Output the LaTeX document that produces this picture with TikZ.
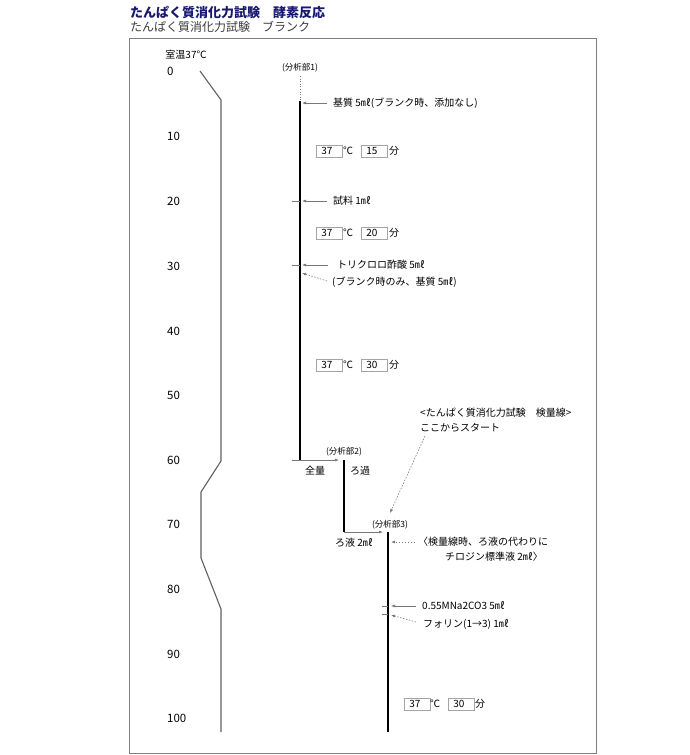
\documentclass[tikz,border=0pt]{standalone}
\usepackage{fontspec}
\setmainfont{Noto Sans CJK JP}
\usetikzlibrary{arrows.meta}
\definecolor{navy}{RGB}{25,25,112}
\definecolor{subgray}{RGB}{60,60,60}
\definecolor{framegray}{RGB}{128,128,128}
\definecolor{arrgray}{RGB}{120,120,120}
\definecolor{boxgray}{RGB}{165,165,165}
\definecolor{curvegray}{RGB}{95,95,95}
\begin{document}
\begin{tikzpicture}[x=1pt,y=-1pt,
  txt/.style={anchor=west,inner sep=0pt,font=\fontsize{10}{12}\selectfont},
  small/.style={anchor=center,inner sep=0pt,font=\fontsize{8.5}{9}\selectfont},
  num/.style={anchor=west,inner sep=0pt,font=\fontsize{11.5}{13}\selectfont},
  valbox/.style={draw=boxgray,fill=white,line width=0.8pt,anchor=west,minimum height=12pt,
     text width=21pt,inner xsep=2.5pt,inner ysep=0pt,align=left,font=\fontsize{10}{12}\selectfont},
  mainline/.style={draw=black,line width=2pt},
  tick/.style={draw=arrgray,line width=0.6pt},
  arr/.style={draw=arrgray,line width=0.6pt,-{Latex[length=4pt,width=3pt]}},
  darr/.style={arr,dash pattern=on 1.5pt off 1.5pt},
]
\useasboundingbox (0,0) rectangle (690,755);

% titles
\node[anchor=west,inner sep=0pt,font=\bfseries\fontsize{13}{15}\selectfont,text=navy] (title) at (130,12) {たんぱく質消化力試験　酵素反応};
\node[anchor=west,inner sep=0pt,font=\fontsize{12}{14}\selectfont,text=subgray] (subtitle) at (130,27) {たんぱく質消化力試験　ブランク};

% frame
\draw[framegray,line width=0.8pt] (129.5,38.5) rectangle (596.5,753.5);

% time axis
\node[txt,anchor=center] (room) at (186,55) {室温37℃};
\foreach \t/\yy in {0/71,10/136,20/201,30/266,40/331,50/395,60/460,70/524,80/589,90/654,100/718}{
  \node[num] (n\t) at (167,\yy) {\t};
}
\draw[curvegray,line width=1.1pt,line join=round] (200,71) -- (221,100) -- (221,461) -- (201,492) -- (201,558) -- (221,609) -- (221,732);

% part 1
\node[small] (p1) at (300,68) {(分析部1)};
\coordinate (d1) at (300,76);
\coordinate (l1top) at (300,101);
\coordinate (l1bot) at (300,460);
\draw[arrgray,line width=0.6pt,dotted] (d1) -- (l1top);
\draw[mainline] (l1top) -- (l1bot);

\node[txt] (s1) at (333,103) {基質 5㎖(ブランク時、添加なし)};
\coordinate (a1s) at (327,103); \coordinate (a1e) at (302,103);
\draw[arr] (a1s) -- (a1e);

\node[valbox] (b1a) at (316,151) {\hspace*{2.5pt}37};
\node[txt] (c1) at (343,151) {℃};
\node[valbox] (b1b) at (361,151) {\hspace*{2.5pt}15};
\node[txt] (m1) at (389,151) {分};

\node[txt] (s2) at (333,201) {試料 1㎖};
\coordinate (t2s) at (292,201); \coordinate (t2e) at (300,201);
\coordinate (a2s) at (327,201); \coordinate (a2e) at (302,201);
\draw[tick] (t2s) -- (t2e);
\draw[arr] (a2s) -- (a2e);

\node[valbox] (b2a) at (316,233) {\hspace*{2.5pt}37};
\node[txt] (c2) at (343,233) {℃};
\node[valbox] (b2b) at (361,233) {\hspace*{2.5pt}20};
\node[txt] (m2) at (389,233) {分};

\node[txt] (s3) at (337,265) {トリクロロ酢酸 5㎖};
\coordinate (t3s) at (292,265); \coordinate (t3e) at (300,265);
\coordinate (a3s) at (328,265); \coordinate (a3e) at (302,265);
\draw[tick] (t3s) -- (t3e);
\draw[arr] (a3s) -- (a3e);

\node[txt] (s4) at (332,282) {(ブランク時のみ、基質 5㎖)};
\coordinate (a4s) at (327,281); \coordinate (a4e) at (302,273);
\draw[darr] (a4s) -- (a4e);

\node[valbox] (b3a) at (316,365) {\hspace*{2.5pt}37};
\node[txt] (c3) at (343,365) {℃};
\node[valbox] (b3b) at (361,365) {\hspace*{2.5pt}30};
\node[txt] (m3) at (389,365) {分};

% part 2
\coordinate (h2s) at (292,460);
\coordinate (l2top) at (344,460);
\coordinate (l2bot) at (344,532);
\draw[arr,shorten >=5pt] (h2s) -- (l2top);
\draw[mainline] (l2top) -- (l2bot);
\node[small] (p2) at (344,452) {(分析部2)};
\node[txt,anchor=center] (zen) at (315,471) {全量};
\node[txt] (roka) at (350,471) {ろ過};

% calibration note
\node[txt] (k1) at (420,413) {<たんぱく質消化力試験　検量線>};
\node[txt] (k2) at (420,428) {ここからスタート};
\coordinate (k3s) at (425,436); \coordinate (k3e) at (390,513);
\draw[darr] (k3s) -- (k3e);

% part 3
\coordinate (l3top) at (388,532);
\coordinate (l3bot) at (388,732);
\draw[arr,shorten >=5pt] (l2bot) -- (l3top);
\draw[mainline] (l3top) -- (l3bot);
\node[small] (p3) at (390,525) {(分析部3)};
\node[txt] (roeki) at (335,543) {ろ液 2㎖};

\node[txt] (s5) at (418,542) {〈検量線時、ろ液の代わりに};
\node[txt] (s5b) at (445,557) {チロジン標準液 2㎖〉};
\coordinate (a5s) at (415,542); \coordinate (a5e) at (391,542);
\draw[darr] (a5s) -- (a5e);

\node[txt] (s6) at (422,606) {0.55MNa2CO3 5㎖};
\coordinate (t6s) at (382,606); \coordinate (t6e) at (388,606);
\coordinate (a6s) at (416,606); \coordinate (a6e) at (391,606);
\draw[tick] (t6s) -- (t6e);
\draw[arr] (a6s) -- (a6e);

\node[txt] (s7) at (423,624) {フォリン(1→3) 1㎖};
\coordinate (t7s) at (382,614); \coordinate (t7e) at (388,614);
\coordinate (a7s) at (416,622); \coordinate (a7e) at (391,615);
\draw[tick] (t7s) -- (t7e);
\draw[darr] (a7s) -- (a7e);

\node[valbox] (b4a) at (404,704) {\hspace*{2.5pt}37};
\node[txt] (c4) at (430,704) {℃};
\node[valbox] (b4b) at (448,704) {\hspace*{2.5pt}30};
\node[txt] (m4) at (475,704) {分};
\end{tikzpicture}
\end{document}
